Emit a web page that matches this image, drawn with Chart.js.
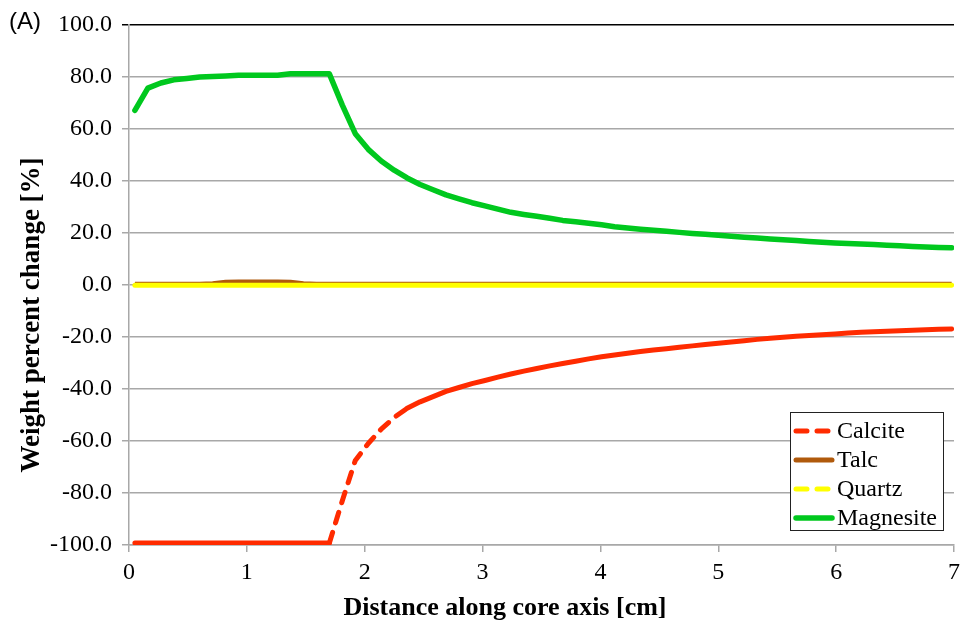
<!DOCTYPE html>
<html>
<head>
<meta charset="utf-8">
<script src="https://cdn.jsdelivr.net/npm/chart.js@4.4.0/dist/chart.umd.min.js"></script>
<style>
  html, body { margin: 0; padding: 0; background: #fff; }
  #wrap { width: 966px; height: 625px; }
</style>
</head>
<body>
<div id="wrap"><canvas id="weightChange"></canvas></div>
<script>
// distance along the core axis [cm]
const distance = [0.05, 0.16, 0.27, 0.38, 0.49, 0.60, 0.71, 0.82, 0.93, 1.04,
  1.15, 1.26, 1.37, 1.48, 1.59, 1.70, 1.81, 1.92, 2.03, 2.14,
  2.25, 2.36, 2.47, 2.58, 2.69, 2.80, 2.91, 3.02, 3.13, 3.24,
  3.35, 3.46, 3.57, 3.68, 3.79, 3.90, 4.01, 4.12, 4.23, 4.34,
  4.45, 4.56, 4.67, 4.78, 4.89, 5.00, 5.11, 5.22, 5.33, 5.44,
  5.55, 5.66, 5.77, 5.88, 5.99, 6.10, 6.21, 6.32, 6.43, 6.54,
  6.65, 6.76, 6.87, 6.98];

// weight percent change [%]
const calcite = [-99.2, -99.2, -99.2, -99.2, -99.2, -99.2, -99.2, -99.2, -99.2, -99.2,
  -99.2, -99.2, -99.2, -99.2, -99.2, -99.2, -83.0, -67.5, -61.0, -55.5,
  -51.0, -47.5, -45.0, -43.0, -41.0, -39.5, -38.0, -36.8, -35.5, -34.3,
  -33.2, -32.2, -31.2, -30.3, -29.4, -28.5, -27.7, -27.0, -26.3, -25.7,
  -25.1, -24.6, -24.0, -23.5, -23.0, -22.5, -22.0, -21.5, -21.0, -20.6,
  -20.2, -19.8, -19.5, -19.2, -18.9, -18.6, -18.3, -18.1, -17.9, -17.7,
  -17.5, -17.3, -17.1, -17.0];
const talc = [0.2, 0.2, 0.2, 0.2, 0.2, 0.2, 0.4, 0.9, 1.0, 1.0,
  1.0, 1.0, 0.9, 0.4, 0.2, 0.2, 0.2, 0.2, 0.2, 0.2,
  0.2, 0.2, 0.2, 0.2, 0.2, 0.2, 0.2, 0.2, 0.2, 0.2,
  0.2, 0.2, 0.2, 0.2, 0.2, 0.2, 0.2, 0.2, 0.2, 0.2,
  0.2, 0.2, 0.2, 0.2, 0.2, 0.2, 0.2, 0.2, 0.2, 0.2,
  0.2, 0.2, 0.2, 0.2, 0.2, 0.2, 0.2, 0.2, 0.2, 0.2,
  0.2, 0.2, 0.2, 0.2];
const quartz = [-0.2, -0.2, -0.2, -0.2, -0.2, -0.2, -0.2, -0.2, -0.2, -0.2,
  -0.2, -0.2, -0.2, -0.2, -0.2, -0.2, -0.2, -0.2, -0.2, -0.2,
  -0.2, -0.2, -0.2, -0.2, -0.2, -0.2, -0.2, -0.2, -0.2, -0.2,
  -0.2, -0.2, -0.2, -0.2, -0.2, -0.2, -0.2, -0.2, -0.2, -0.2,
  -0.2, -0.2, -0.2, -0.2, -0.2, -0.2, -0.2, -0.2, -0.2, -0.2,
  -0.2, -0.2, -0.2, -0.2, -0.2, -0.2, -0.2, -0.2, -0.2, -0.2,
  -0.2, -0.2, -0.2, -0.2];
const magnesite = [67.0, 75.5, 77.5, 78.7, 79.2, 79.8, 80.0, 80.2, 80.5, 80.5,
  80.5, 80.5, 81.0, 81.0, 81.0, 81.0, 69.0, 58.0, 52.0, 47.5,
  44.0, 41.0, 38.5, 36.5, 34.5, 33.0, 31.5, 30.3, 29.0, 27.8,
  27.0, 26.3, 25.5, 24.7, 24.2, 23.6, 23.0, 22.3, 21.8, 21.3,
  20.9, 20.5, 20.1, 19.7, 19.4, 19.0, 18.6, 18.2, 17.9, 17.6,
  17.3, 17.0, 16.6, 16.3, 16.0, 15.8, 15.6, 15.4, 15.2, 15.0,
  14.7, 14.5, 14.3, 14.2];

const X_TITLE = 'Distance along core axis [cm]';
const Y_TITLE = 'Weight percent change [%]';
const PANEL = '(A)';

const SERIF = '"Liberation Serif", "Times New Roman", Times, serif';
const GRID_GREY = '#a8a8a8';

function toPoints(ys) {
  return distance.map((x, i) => ({ x: x, y: ys[i] }));
}

// Excel restarts the dash on every short segment, so only the steep bits look dashed
const dashOnlyWhenSteep = ctx => {
  const len = Math.hypot(ctx.p1.x - ctx.p0.x, ctx.p1.y - ctx.p0.y);
  return len > 15 ? undefined : [];
};

// legend box inside the plot + axis titles + panel letter
const panelDecor = {
  id: 'panelDecor',
  afterDraw(chart) {
    const { ctx, chartArea } = chart;
    ctx.save();
    ctx.fillStyle = '#000';

    ctx.font = '24px "Liberation Sans", Arial, sans-serif';
    ctx.textAlign = 'left';
    ctx.textBaseline = 'middle';
    ctx.fillText(PANEL, 9, 22);

    ctx.font = 'bold 26px ' + SERIF;
    ctx.textAlign = 'center';
    ctx.fillText(X_TITLE, 505, 608);

    ctx.save();
    ctx.font = 'bold 27px ' + SERIF;
    ctx.translate(32, 315);
    ctx.rotate(-Math.PI / 2);
    ctx.fillText(Y_TITLE, 0, 0);
    ctx.restore();

    // legend
    const boxW = 153, boxH = 118;
    const left = chartArea.right - 11 - boxW;
    const top = chartArea.bottom - 15 - boxH;
    ctx.fillStyle = '#fff';
    ctx.fillRect(left, top, boxW, boxH);
    ctx.strokeStyle = '#222';
    ctx.lineWidth = 1;
    ctx.strokeRect(left + 0.5, top + 0.5, boxW, boxH);

    ctx.font = '24px ' + SERIF;
    ctx.textAlign = 'left';
    ctx.textBaseline = 'middle';
    chart.data.datasets.forEach((ds, i) => {
      const y = top + 19 + i * 29;
      ctx.save();
      ctx.strokeStyle = ds.borderColor;
      ctx.lineWidth = ds.borderWidth;
      ctx.lineCap = 'round';
      ctx.setLineDash(ds.borderDash || []);
      ctx.beginPath();
      ctx.moveTo(left + 6, y);
      ctx.lineTo(left + 42, y);
      ctx.stroke();
      ctx.restore();
      ctx.fillStyle = '#000';
      ctx.fillText(ds.label, left + 47, y + 1);
    });
    ctx.restore();
  }
};

new Chart(document.getElementById('weightChange'), {
  type: 'line',
  data: {
    datasets: [
      {
        label: 'Calcite',
        data: toPoints(calcite),
        borderColor: '#ff2b00',
        borderWidth: 5,
        borderDash: [11, 10],
        borderCapStyle: 'round',
        segment: { borderDash: dashOnlyWhenSteep },
        order: 1
      },
      {
        label: 'Talc',
        data: toPoints(talc),
        borderColor: '#b05a0c',
        borderWidth: 5,
        order: 3
      },
      {
        label: 'Quartz',
        data: toPoints(quartz),
        borderColor: '#ffff00',
        borderWidth: 5,
        borderDash: [11, 10],
        borderCapStyle: 'round',
        segment: { borderDash: dashOnlyWhenSteep },
        order: 2
      },
      {
        label: 'Magnesite',
        data: toPoints(magnesite),
        borderColor: '#00c81e',
        borderWidth: 5.5,
        borderCapStyle: 'round',
        order: 1
      }
    ]
  },
  options: {
    responsive: true,
    maintainAspectRatio: false,
    animation: false,
    layout: { padding: { top: 20, right: 8, left: 0, bottom: 0 } },
    elements: {
      point: { radius: 0, hoverRadius: 0 },
      line: { tension: 0, borderJoinStyle: 'round', fill: false }
    },
    plugins: {
      legend: { display: false },
      tooltip: { enabled: false }
    },
    scales: {
      x: {
        type: 'linear',
        min: 0,
        max: 7,
        afterFit: scale => { scale.height = 80; },
        border: { color: GRID_GREY, width: 1.5 },
        grid: { drawOnChartArea: false, color: GRID_GREY, lineWidth: 1.5, tickLength: 7 },
        ticks: { stepSize: 1, color: '#000', padding: 6, font: { family: SERIF, size: 24 } }
      },
      y: {
        min: -100,
        max: 100,
        afterFit: scale => { scale.width = 129; },
        border: { color: GRID_GREY, width: 1.5 },
        grid: {
          color: c => (c.tick && c.tick.value === 100 ? '#000' : GRID_GREY),
          lineWidth: 1.5,
          tickLength: 7
        },
        ticks: {
          stepSize: 20,
          color: '#000',
          padding: 10,
          font: { family: SERIF, size: 24 },
          callback: v => v.toFixed(1)
        }
      }
    }
  },
  plugins: [panelDecor]
});
</script>
</body>
</html>
